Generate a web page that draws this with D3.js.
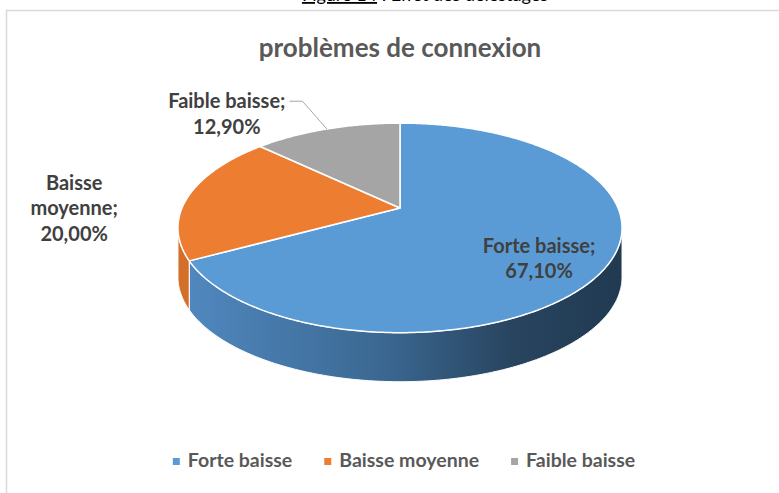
<!DOCTYPE html>
<html>
<head>
<meta charset="utf-8">
<script src="https://cdn.jsdelivr.net/npm/d3@7"></script>
<style>
  html, body { margin: 0; padding: 0; background: #fff; }
  svg { display: block; }
  text { font-family: Lato, "Open Sans", sans-serif; }
</style>
</head>
<body>
<div id="chart"></div>
<script>
// data
const categories = ["Forte baisse", "Baisse moyenne", "Faible baisse"];
const values = [67.1, 20.0, 12.9];
const colors = ["#5b9bd5", "#ed7d31", "#a5a5a5"];
const sideColors = ["url(#blueSide)", "#d2702a", "#8c8c8c"];
const labelTexts = [["Forte baisse;", "67,10%"], ["Baisse", "moyenne;", "20,00%"], ["Faible baisse;", "12,90%"]];

const width = 779, height = 493;
const svg = d3.select("#chart").append("svg")
  .attr("width", width)
  .attr("height", height);

// caption of the figure (cut at the top of the picture)
const cap = svg.append("text")
  .attr("x", 425).attr("y", 1)
  .attr("text-anchor", "middle")
  .style("font-size", "18px")
  .style("fill", "#000");
cap.append("tspan").style("text-decoration", "underline").text("Figure 14");
cap.append("tspan").text(" : Effet des délestages");

// chart frame
svg.append("rect")
  .attr("x", 6.5).attr("y", 10.5)
  .attr("width", 820).attr("height", 520)
  .attr("fill", "none")
  .attr("stroke", "#d9d9d9")
  .attr("stroke-width", 1.5);

svg.append("text")
  .attr("x", 400).attr("y", 57)
  .attr("text-anchor", "middle")
  .style("font-size", "26px")
  .style("font-weight", "bold")
  .style("fill", "#595959")
  .text("problèmes de connexion");

// gradient for the blue side
const defs = svg.append("defs");
const grad = defs.append("linearGradient")
  .attr("id", "blueSide")
  .attr("gradientUnits", "userSpaceOnUse")
  .attr("x1", 185).attr("x2", 622).attr("y1", 0).attr("y2", 0);
[[0, "#5088bf"], [0.45, "#3b6892"], [0.75, "#28445f"], [1, "#213a52"]].forEach(s => {
  grad.append("stop").attr("offset", s[0]).attr("stop-color", s[1]);
});

// perspective projection of the pie disc
const cx = 400, cy = 208, Sx = 218, Sy = 101, tilt = 0.19, depth = 49;
function proj(theta, r, dy) {
  const u = r * Math.sin(theta), v = -r * Math.cos(theta);
  const w = 1 - tilt * v;
  return [cx + Sx * u / w, cy + Sy * v / w + (dy || 0)];
}
function arcPoints(a0, a1, dy) {
  const n = Math.max(2, Math.ceil((a1 - a0) / 0.01));
  return d3.range(n + 1).map(i => proj(a0 + (a1 - a0) * i / n, 1, dy));
}

const pie = d3.pie().sort(null).startAngle(0).endAngle(2 * Math.PI);
const arcs = pie(values);
const line = d3.line();

// visible front of the cylinder
const frontR = Math.acos(-tilt), frontL = 2 * Math.PI - frontR;

const sides = svg.append("g");
arcs.forEach((d, i) => {
  const a0 = Math.max(d.startAngle, frontR), a1 = Math.min(d.endAngle, frontL);
  if (a1 <= a0) return;
  const pts = arcPoints(a0, a1, 0).concat(arcPoints(a0, a1, depth).reverse());
  sides.append("path")
    .attr("d", line(pts) + "Z")
    .attr("fill", sideColors[i])
    .attr("stroke", "#fff")
    .attr("stroke-width", 1);
});

const tops = svg.append("g");
arcs.forEach((d, i) => {
  const pts = [[cx, cy]].concat(arcPoints(d.startAngle, d.endAngle, 0));
  tops.append("path")
    .attr("d", line(pts) + "Z")
    .attr("fill", colors[i])
    .attr("stroke", "#fff")
    .attr("stroke-width", 1.5)
    .attr("stroke-linejoin", "round");
});

// data labels
const labelOffsets = [[7, 15], [-115, 14], [-100, -14]];
const labels = svg.append("g");
arcs.forEach((d, i) => {
  const mid = (d.startAngle + d.endAngle) / 2;
  let pos;
  if (i === 0) pos = proj(mid, 0.66, 0);
  else pos = proj(mid, 1, 0);
  const lx = pos[0] + labelOffsets[i][0], ly = pos[1] + labelOffsets[i][1];
  const lines = labelTexts[i];
  const lh = 25.5;
  const t = labels.append("text")
    .attr("text-anchor", "middle")
    .style("font-size", "20px")
    .style("font-weight", "bold")
    .style("fill", "#404040");
  lines.forEach((s, k) => {
    t.append("tspan")
      .attr("x", lx)
      .attr("y", ly + (k - (lines.length - 1) / 2) * lh + 6)
      .text(s);
  });
  if (i === 2) {
    const bb = t.node().getBBox();
    const x0 = bb.x + bb.width + 4;
    const y0 = bb.y + 13;
    labels.append("polyline")
      .attr("points", [[x0, y0], [x0 + 13, y0], pos].join(" "))
      .attr("fill", "none")
      .attr("stroke", "#a6a6a6")
      .attr("stroke-width", 1);
  }
});

// legend
const legend = svg.append("g");
const items = categories.map((c, i) => {
  const g = legend.append("g");
  g.append("rect").attr("width", 7).attr("height", 7).attr("y", -9).attr("fill", colors[i]);
  const t = g.append("text").attr("x", 15).attr("y", 0)
    .style("font-size", "19.5px").style("font-weight", "bold").style("fill", "#595959")
    .text(c);
  return { g, w: 15 + t.node().getComputedTextLength() };
});
const gap = 32;
const total = d3.sum(items, d => d.w) + gap * (items.length - 1);
let x = 404 - total / 2;
items.forEach(it => {
  it.g.attr("transform", `translate(${x},467)`);
  x += it.w + gap;
});
</script>
</body>
</html>
